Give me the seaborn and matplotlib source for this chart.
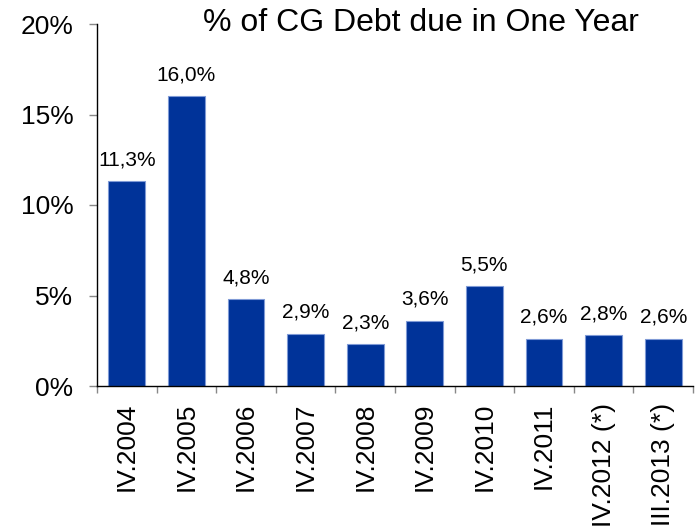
import matplotlib
matplotlib.use("Agg")
import matplotlib.pyplot as plt
from matplotlib.ticker import FixedLocator, PercentFormatter
import seaborn as sns
import pandas as pd

periods = ["IV.2004", "IV.2005", "IV.2006", "IV.2007", "IV.2008",
           "IV.2009", "IV.2010", "IV.2011", "IV.2012 (*)", "III.2013 (*)"]
debt_share = [11.3, 16.0, 4.8, 2.9, 2.3, 3.6, 5.5, 2.6, 2.8, 2.6]
y_ticks = [0, 5, 10, 15, 20]
title = "% of CG Debt due in One Year"

sns.set_style("white")
plt.rcParams["font.family"] = ["Liberation Sans", "DejaVu Sans"]
plt.rcParams["text.color"] = "black"
plt.rcParams["xtick.labelcolor"] = "black"
plt.rcParams["ytick.labelcolor"] = "black"

df = pd.DataFrame({"period": periods, "share": debt_share})

fig = plt.figure(figsize=(6.96, 5.30), dpi=100)
ax = fig.add_axes([97 / 696, 1 - 386 / 530, (693 - 97) / 696, (386 - 24) / 530])

sns.barplot(data=df, x="period", y="share", color="#003399", width=0.62,
            saturation=1, edgecolor="#7f9ad6", linewidth=0.8, ax=ax)

# value labels above each bar, comma as decimal separator
for i, v in enumerate(debt_share):
    ax.annotate(f"{v:.1f}%".replace(".", ","), (i, v), xytext=(0, 11.5),
                textcoords="offset points", ha="center", va="baseline",
                fontsize=15, color="black")

ax.set_xlim(-0.5, len(periods) - 0.5)
ax.set_ylim(0, 20)
ax.set_yticks(y_ticks)
ax.yaxis.set_major_formatter(PercentFormatter(decimals=0))
ax.tick_params(axis="y", which="major", direction="out", length=6, width=1,
               color="#888888", labelsize=19, labelcolor="black", pad=11, left=True)

# category labels at bar centres, tick marks between bars
ax.set_xticks(range(len(periods)))
ax.set_xticklabels(periods, rotation=90, fontsize=19, color="black")
ax.tick_params(axis="x", which="major", length=0, pad=12)
ax.xaxis.set_minor_locator(FixedLocator([i - 0.5 for i in range(len(periods) + 1)]))
ax.tick_params(axis="x", which="minor", direction="out", length=5, width=1,
               color="#888888", bottom=True)

ax.set_xlabel("")
ax.set_ylabel("")
for side in ["top", "right"]:
    ax.spines[side].set_visible(False)
for side in ["left", "bottom"]:
    ax.spines[side].set_color("black")
    ax.spines[side].set_linewidth(1)

fig.text(421 / 696, 1 - 23 / 530, title, ha="center", va="center",
         fontsize=23, color="black")

fig.savefig("out.png", dpi=100)
